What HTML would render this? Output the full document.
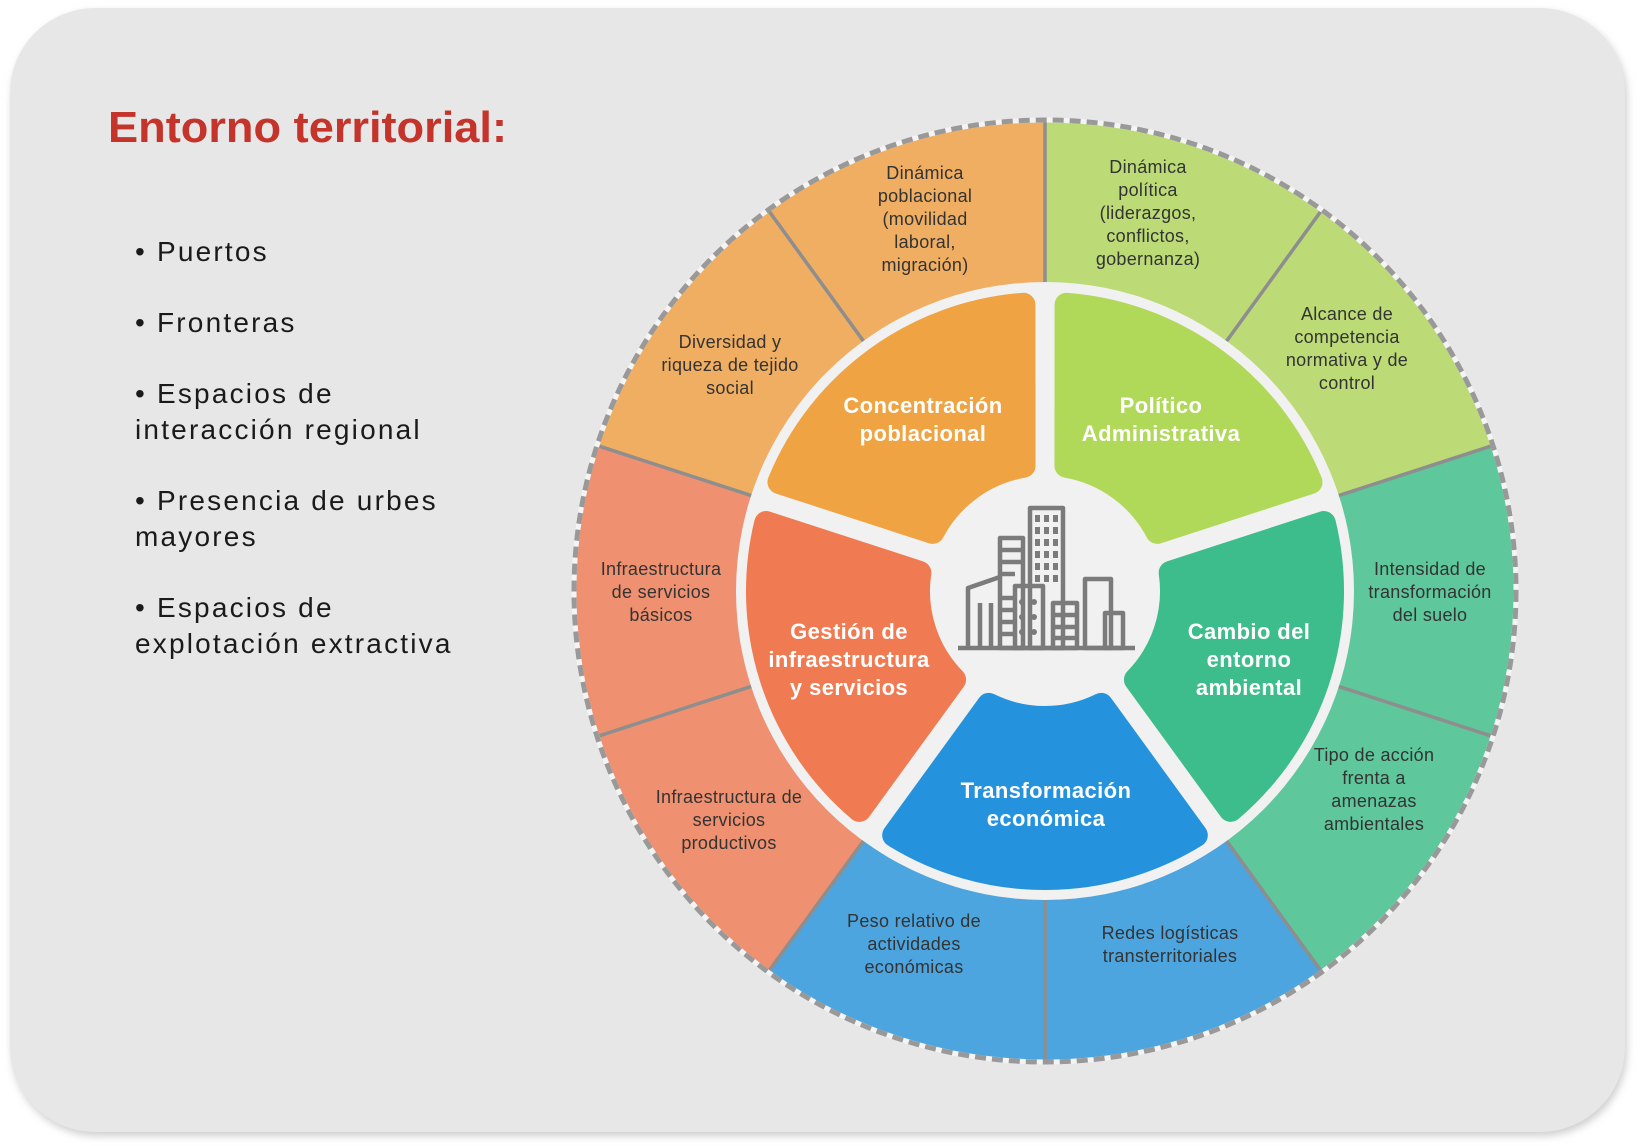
<!DOCTYPE html>
<html><head><meta charset="utf-8"><style>
html,body{margin:0;padding:0;background:#fff;width:1642px;height:1146px;overflow:hidden}
svg{display:block}
.o{font-family:"Liberation Sans",sans-serif;font-size:18px;fill:#333;text-anchor:middle;letter-spacing:0.3px}
.i{font-family:"Liberation Sans",sans-serif;font-size:22px;font-weight:bold;fill:#fff;text-anchor:middle;letter-spacing:0.4px}
.b{font-family:"Liberation Sans",sans-serif;font-size:28px;fill:#1a1a1a;letter-spacing:2.2px}
</style></head><body>
<svg width="1642" height="1146" viewBox="0 0 1642 1146" xmlns="http://www.w3.org/2000/svg">
<defs><filter id="sh" x="-5%" y="-5%" width="110%" height="110%"><feGaussianBlur stdDeviation="4"/></filter></defs>
<rect x="12" y="12" width="1615" height="1124" rx="85" fill="#cfcfcf" filter="url(#sh)"/>
<rect x="10" y="8" width="1615" height="1124" rx="85" fill="#e7e7e7"/>
<text x="108" y="142" font-family="Liberation Sans,sans-serif" font-size="44" font-weight="bold" fill="#c4342b" textLength="399" lengthAdjust="spacingAndGlyphs">Entorno territorial:</text>
<text class="b" x="135" y="261">• Puertos</text>
<text class="b" x="135" y="332">• Fronteras</text>
<text class="b" x="135" y="403">• Espacios de</text>
<text class="b" x="135" y="439">interacción regional</text>
<text class="b" x="135" y="510">• Presencia de urbes</text>
<text class="b" x="135" y="546">mayores</text>
<text class="b" x="135" y="617">• Espacios de</text>
<text class="b" x="135" y="653">explotación extractiva</text>

<g transform="translate(1045,591)">
  <circle r="471" fill="#fff"/>
  <g>
    <path d="M0 -471 A471 471 0 0 1 276.9 -381 L179.9 -247.6 A306 306 0 0 0 0 -306Z" fill="#bcdb77"/>
    <path d="M0 -471 A471 471 0 0 1 276.9 -381 L179.9 -247.6 A306 306 0 0 0 0 -306Z" fill="#bcdb77" transform="rotate(36)"/>
    <path d="M0 -471 A471 471 0 0 1 276.9 -381 L179.9 -247.6 A306 306 0 0 0 0 -306Z" fill="#5ec79c" transform="rotate(72)"/>
    <path d="M0 -471 A471 471 0 0 1 276.9 -381 L179.9 -247.6 A306 306 0 0 0 0 -306Z" fill="#5ec79c" transform="rotate(108)"/>
    <path d="M0 -471 A471 471 0 0 1 276.9 -381 L179.9 -247.6 A306 306 0 0 0 0 -306Z" fill="#4da5e0" transform="rotate(144)"/>
    <path d="M0 -471 A471 471 0 0 1 276.9 -381 L179.9 -247.6 A306 306 0 0 0 0 -306Z" fill="#4da5e0" transform="rotate(180)"/>
    <path d="M0 -471 A471 471 0 0 1 276.9 -381 L179.9 -247.6 A306 306 0 0 0 0 -306Z" fill="#ef9170" transform="rotate(216)"/>
    <path d="M0 -471 A471 471 0 0 1 276.9 -381 L179.9 -247.6 A306 306 0 0 0 0 -306Z" fill="#ef9170" transform="rotate(252)"/>
    <path d="M0 -471 A471 471 0 0 1 276.9 -381 L179.9 -247.6 A306 306 0 0 0 0 -306Z" fill="#efae62" transform="rotate(288)"/>
    <path d="M0 -471 A471 471 0 0 1 276.9 -381 L179.9 -247.6 A306 306 0 0 0 0 -306Z" fill="#efae62" transform="rotate(324)"/>
  </g>
  <g stroke="#8e8e8e" stroke-width="3.5">
    <line x1="0" y1="-306" x2="0" y2="-471"/>
    <line x1="0" y1="-306" x2="0" y2="-471" transform="rotate(36)"/>
    <line x1="0" y1="-306" x2="0" y2="-471" transform="rotate(72)"/>
    <line x1="0" y1="-306" x2="0" y2="-471" transform="rotate(108)"/>
    <line x1="0" y1="-306" x2="0" y2="-471" transform="rotate(144)"/>
    <line x1="0" y1="-306" x2="0" y2="-471" transform="rotate(180)"/>
    <line x1="0" y1="-306" x2="0" y2="-471" transform="rotate(216)"/>
    <line x1="0" y1="-306" x2="0" y2="-471" transform="rotate(252)"/>
    <line x1="0" y1="-306" x2="0" y2="-471" transform="rotate(288)"/>
    <line x1="0" y1="-306" x2="0" y2="-471" transform="rotate(324)"/>
  </g>
  <circle r="471" fill="none" stroke="#f4f4f4" stroke-width="5"/>
  <circle r="471" fill="none" stroke="#999" stroke-width="5" stroke-dasharray="11 6"/>
  <circle r="309" fill="#f1f1f1"/>
  <g stroke-width="24" stroke-linejoin="round">
    <path d="M56.2 113.9 L150.8 244.2 A287 287 0 0 1 -150.8 244.2 L-56.2 113.9 A127 127 0 0 0 56.2 113.9Z" fill="#2592dd" stroke="#2592dd"/>
    <path d="M56.2 113.9 L150.8 244.2 A287 287 0 0 1 -150.8 244.2 L-56.2 113.9 A127 127 0 0 0 56.2 113.9Z" fill="#3dbd8b" stroke="#3dbd8b" transform="rotate(-72)"/>
    <path d="M56.2 113.9 L150.8 244.2 A287 287 0 0 1 -150.8 244.2 L-56.2 113.9 A127 127 0 0 0 56.2 113.9Z" fill="#b0d95a" stroke="#b0d95a" transform="rotate(-144)"/>
    <path d="M56.2 113.9 L150.8 244.2 A287 287 0 0 1 -150.8 244.2 L-56.2 113.9 A127 127 0 0 0 56.2 113.9Z" fill="#f0a342" stroke="#f0a342" transform="rotate(144)"/>
    <path d="M56.2 113.9 L150.8 244.2 A287 287 0 0 1 -150.8 244.2 L-56.2 113.9 A127 127 0 0 0 56.2 113.9Z" fill="#f07b52" stroke="#f07b52" transform="rotate(72)"/>
  </g>
</g>

<!-- city icon -->
<g fill="none" stroke="#7b7b7b" stroke-width="4.5" stroke-linejoin="round">
  <line x1="958" y1="648" x2="1135" y2="648"/>
  <rect x="1030" y="508" width="33" height="140"/>
  <rect x="1000" y="538" width="23" height="110"/>
  <polyline points="968,648 968,588 1000,577"/>
  <line x1="980" y1="603" x2="980" y2="648"/>
  <line x1="991" y1="603" x2="991" y2="648"/>
  <rect x="1015" y="586" width="28" height="62"/>
  <rect x="1053" y="603" width="24" height="45"/>
  <rect x="1085" y="579" width="26" height="69"/>
  <rect x="1105" y="613" width="18" height="35"/>
  <line x1="1053" y1="615" x2="1077" y2="615"/>
  <line x1="1053" y1="627" x2="1077" y2="627"/>
  <line x1="1053" y1="638" x2="1077" y2="638"/>
  <line x1="1000" y1="550" x2="1023" y2="550"/>
  <line x1="1000" y1="562" x2="1023" y2="562"/>
  <line x1="1000" y1="574" x2="1015" y2="574"/>
  <line x1="1000" y1="598" x2="1015" y2="598"/>
  <line x1="1000" y1="610" x2="1015" y2="610"/>
  <line x1="1000" y1="622" x2="1015" y2="622"/>
  <line x1="1000" y1="634" x2="1015" y2="634"/>
</g>
<g fill="#7b7b7b">
  <rect x="1035" y="515" width="5" height="7"/><rect x="1044" y="515" width="5" height="7"/><rect x="1053" y="515" width="5" height="7"/>
  <rect x="1035" y="527" width="5" height="7"/><rect x="1044" y="527" width="5" height="7"/><rect x="1053" y="527" width="5" height="7"/>
  <rect x="1035" y="539" width="5" height="7"/><rect x="1044" y="539" width="5" height="7"/><rect x="1053" y="539" width="5" height="7"/>
  <rect x="1035" y="551" width="5" height="7"/><rect x="1044" y="551" width="5" height="7"/><rect x="1053" y="551" width="5" height="7"/>
  <rect x="1035" y="563" width="5" height="7"/><rect x="1044" y="563" width="5" height="7"/><rect x="1053" y="563" width="5" height="7"/>
  <rect x="1035" y="575" width="5" height="7"/><rect x="1044" y="575" width="5" height="7"/><rect x="1053" y="575" width="5" height="7"/>
  <circle cx="1022" cy="602" r="3"/><circle cx="1034" cy="602" r="3"/>
  <circle cx="1022" cy="617" r="3"/><circle cx="1034" cy="617" r="3"/>
  <circle cx="1022" cy="632" r="3"/><circle cx="1034" cy="632" r="3"/>
</g>

<!-- outer labels -->
<text class="o" x="925" y="179"><tspan x="925">Dinámica</tspan><tspan x="925" dy="23">poblacional</tspan><tspan x="925" dy="23">(movilidad</tspan><tspan x="925" dy="23">laboral,</tspan><tspan x="925" dy="23">migración)</tspan></text>
<text class="o" x="1148" y="173"><tspan x="1148">Dinámica</tspan><tspan x="1148" dy="23">política</tspan><tspan x="1148" dy="23">(liderazgos,</tspan><tspan x="1148" dy="23">conflictos,</tspan><tspan x="1148" dy="23">gobernanza)</tspan></text>
<text class="o" x="1347" y="320"><tspan x="1347">Alcance de</tspan><tspan x="1347" dy="23">competencia</tspan><tspan x="1347" dy="23">normativa y de</tspan><tspan x="1347" dy="23">control</tspan></text>
<text class="o" x="730" y="348"><tspan x="730">Diversidad y</tspan><tspan x="730" dy="23">riqueza de tejido</tspan><tspan x="730" dy="23">social</tspan></text>
<text class="o" x="661" y="575"><tspan x="661">Infraestructura</tspan><tspan x="661" dy="23">de servicios</tspan><tspan x="661" dy="23">básicos</tspan></text>
<text class="o" x="1430" y="575"><tspan x="1430">Intensidad de</tspan><tspan x="1430" dy="23">transformación</tspan><tspan x="1430" dy="23">del suelo</tspan></text>
<text class="o" x="729" y="803"><tspan x="729">Infraestructura de</tspan><tspan x="729" dy="23">servicios</tspan><tspan x="729" dy="23">productivos</tspan></text>
<text class="o" x="1374" y="761"><tspan x="1374">Tipo de acción</tspan><tspan x="1374" dy="23">frenta a</tspan><tspan x="1374" dy="23">amenazas</tspan><tspan x="1374" dy="23">ambientales</tspan></text>
<text class="o" x="914" y="927"><tspan x="914">Peso relativo de</tspan><tspan x="914" dy="23">actividades</tspan><tspan x="914" dy="23">económicas</tspan></text>
<text class="o" x="1170" y="939"><tspan x="1170">Redes logísticas</tspan><tspan x="1170" dy="23">transterritoriales</tspan></text>

<!-- inner labels -->
<text class="i" x="923" y="413"><tspan x="923">Concentración</tspan><tspan x="923" dy="28">poblacional</tspan></text>
<text class="i" x="1161" y="413"><tspan x="1161">Político</tspan><tspan x="1161" dy="28">Administrativa</tspan></text>
<text class="i" x="849" y="639"><tspan x="849">Gestión de</tspan><tspan x="849" dy="28">infraestructura</tspan><tspan x="849" dy="28">y servicios</tspan></text>
<text class="i" x="1249" y="639"><tspan x="1249">Cambio del</tspan><tspan x="1249" dy="28">entorno</tspan><tspan x="1249" dy="28">ambiental</tspan></text>
<text class="i" x="1046" y="798"><tspan x="1046">Transformación</tspan><tspan x="1046" dy="28">económica</tspan></text>
</svg>
</body></html>
